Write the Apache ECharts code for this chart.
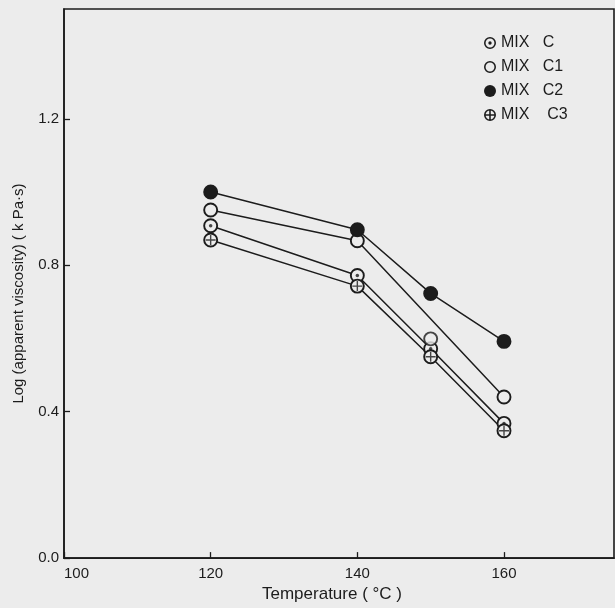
<!DOCTYPE html>
<html>
<head>
<meta charset="utf-8">
<script src="https://cdn.jsdelivr.net/npm/echarts@6/dist/echarts.min.js"></script>
<style>
  html, body { margin: 0; padding: 0; background: #ececec; }
  #chart { width: 615px; height: 608px; }
</style>
</head>
<body>
<div id="chart"></div>
<script>
  // values
  var temps = [120, 140, 150, 160];
  var temps1 = [120, 140, 160];
  var mixC = [0.908, 0.772, 0.572, 0.368];
  var mixC1 = [0.951, 0.867, 0.440];
  var mixC1Lone = [[150, 0.599]];
  var mixC2 = [1.000, 0.897, 0.723, 0.592];
  var mixC3 = [0.869, 0.743, 0.550, 0.348];

  function pairs(xs, ys) {
    return xs.map(function (x, i) { return [x, ys[i]]; });
  }

  var ink = '#1c1c1c';
  var paper = '#ececec';
  var ring = 'M0,-10 A10,10 0 1,1 0,10 A10,10 0 1,1 0,-10 Z M0,-7.4 A7.4,7.4 0 1,0 0,7.4 A7.4,7.4 0 1,0 0,-7.4 Z';
  var dotIcon = 'path://' + ring + ' M-2.8,0 A2.8,2.8 0 1,1 2.8,0 A2.8,2.8 0 1,1 -2.8,0 Z';
  var crossIcon = 'path://' + ring + ' M-1.3,-9 L1.3,-9 L1.3,9 L-1.3,9 Z M-9,-1.3 L9,-1.3 L9,1.3 L-9,1.3 Z';
  var openIcon = 'path://' + ring;
  var plusPath = 'path://M-1.4,-10 L1.4,-10 L1.4,10 L-1.4,10 Z M-10,-1.4 L10,-1.4 L10,1.4 L-10,1.4 Z';

  function lineSeries(name, data, fill) {
    return {
      name: name,
      type: 'line',
      data: data,
      symbol: 'circle',
      symbolSize: 13,
      z: 3,
      lineStyle: { color: ink, width: 1.5 },
      itemStyle: { color: fill, borderColor: ink, borderWidth: 1.9 }
    };
  }

  var chart = echarts.init(document.getElementById('chart'));

  var option = {
    backgroundColor: paper,
    animation: false,
    textStyle: { fontFamily: 'Liberation Sans', color: ink },
    grid: {
      left: 64, right: 1, top: 9, bottom: 46,
      show: true, borderColor: ink, borderWidth: 1.6
    },
    legend: {
      orient: 'vertical',
      left: 479,
      top: 30,
      itemWidth: 12,
      itemHeight: 12,
      itemGap: 8,
      textStyle: { fontSize: 16, color: ink, fontFamily: 'Liberation Sans' },
      formatter: function (name) {
        return name === 'MIX C3' ? 'MIX    C3' : name.replace(' ', '   ');
      },
      data: [
        { name: 'MIX C', icon: dotIcon, itemStyle: { color: ink, borderWidth: 0 } },
        { name: 'MIX C1', icon: openIcon, itemStyle: { color: ink, borderWidth: 0 } },
        { name: 'MIX C2', icon: 'circle', itemStyle: { color: ink, borderWidth: 0 } },
        { name: 'MIX C3', icon: crossIcon, itemStyle: { color: ink, borderWidth: 0 } }
      ]
    },
    xAxis: {
      type: 'value',
      min: 100, max: 175, interval: 20,
      name: 'Temperature ( \u00B0C )',
      nameLocation: 'middle',
      nameGap: 26,
      nameTextStyle: { fontSize: 17, color: ink, padding: [0, 14, 0, 0] },
      axisLine: { show: true, lineStyle: { color: ink, width: 1.6 } },
      axisTick: { show: true, inside: true, length: 6, lineStyle: { color: ink, width: 1.3 } },
      axisLabel: { fontSize: 15, color: ink, margin: 8, showMaxLabel: false, alignMinLabel: 'left' },
      splitLine: { show: false }
    },
    yAxis: {
      type: 'value',
      min: 0, max: 1.5, interval: 0.4,
      name: 'Log (apparent viscosity) ( k Pa\u00B7s)',
      nameLocation: 'middle',
      nameGap: 38,
      nameTextStyle: { fontSize: 15, color: ink, padding: [0, 20, 0, 0] },
      axisLine: { show: true, lineStyle: { color: ink, width: 1.6 } },
      axisTick: { show: true, inside: true, length: 6, lineStyle: { color: ink, width: 1.3 } },
      axisLabel: {
        fontSize: 15, color: ink, margin: 5, showMaxLabel: false,
        formatter: function (v) { return v.toFixed(1); }
      },
      splitLine: { show: false }
    },
    series: [
      lineSeries('MIX C', pairs(temps, mixC), paper),
      lineSeries('MIX C1', pairs(temps1, mixC1), paper),
      lineSeries('MIX C2', pairs(temps, mixC2), ink),
      lineSeries('MIX C3', pairs(temps, mixC3), paper),
      {
        name: 'MIX C1',
        type: 'scatter',
        data: mixC1Lone,
        symbol: 'circle',
        symbolSize: 13,
        z: 3,
        itemStyle: { color: paper, borderColor: ink, borderWidth: 1.9 }
      },
      {
        name: 'MIX C dot',
        type: 'scatter',
        data: pairs(temps, mixC),
        symbol: 'circle',
        symbolSize: 3.5,
        z: 4,
        silent: true,
        itemStyle: { color: ink }
      },
      {
        name: 'MIX C3 cross',
        type: 'scatter',
        data: pairs(temps, mixC3),
        symbol: plusPath,
        symbolSize: 10,
        z: 4,
        silent: true,
        itemStyle: { color: ink }
      }
    ]
  };

  chart.setOption(option);
  window.addEventListener('resize', function () {
    chart.resize();
  });
</script>
</body>
</html>
